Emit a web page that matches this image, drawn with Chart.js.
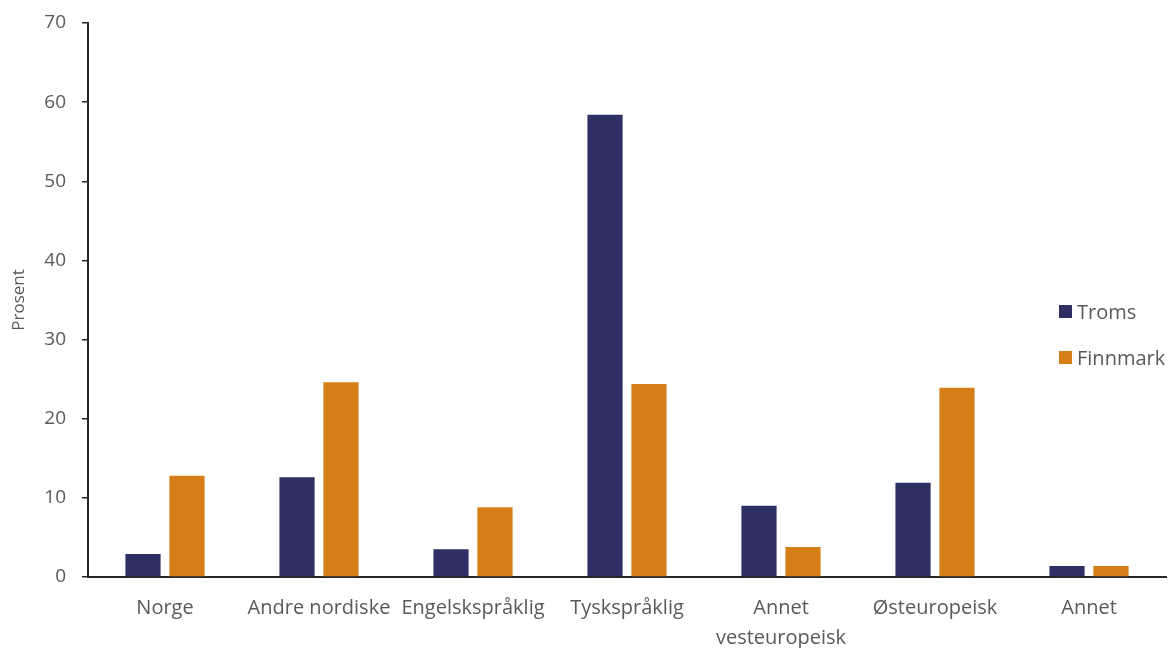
<!DOCTYPE html>
<html>
<head>
<meta charset="utf-8">
<script src="https://cdn.jsdelivr.net/npm/chart.js@4"></script>
<style>
    html, body { margin: 0; padding: 0; background: #fff; }
    #wrap { position: relative; width: 1173px; height: 648px; }
</style>
</head>
<body>
<div id="wrap"><canvas id="chart" width="1173" height="648"></canvas></div>
<script>
/* ---- DATA ---- */
const categories = ['Norge', 'Andre nordiske', 'Engelskspråklig', 'Tyskspråklig',
    ['Annet', 'vesteuropeisk'], 'Østeuropeisk', 'Annet'];
const troms     = [2.9, 12.6, 3.5, 58.4, 9.0, 11.9, 1.4];
const finnmark  = [12.8, 24.6, 8.8, 24.4, 3.8, 23.9, 1.4];
const yTicks    = [0, 10, 20, 30, 40, 50, 60, 70];

const TEXT = '#595959';
const AXIS = '#262626';
const FONT = "'Open Sans', sans-serif";

/* ---- LEGEND (drawn inside the plot, like the original) ---- */
const insideLegend = {
    id: 'insideLegend',
    afterDraw(chart) {
        const ctx = chart.ctx;
        ctx.save();
        ctx.font = '20px ' + FONT;
        ctx.textBaseline = 'middle';
        chart.data.datasets.forEach((ds, i) => {
            const y = 312 + i * 46;
            ctx.fillStyle = ds.backgroundColor;
            ctx.fillRect(1059, y - 7, 13, 13);
            ctx.fillStyle = TEXT;
            ctx.fillText(ds.label, 1077, y + 1);
        });
        ctx.restore();
    }
};

new Chart(document.getElementById('chart'), {
    type: 'bar',
    data: {
        labels: categories,
        datasets: [
            { label: 'Troms', data: troms, backgroundColor: '#2E3063' },
            { label: 'Finnmark', data: finnmark, backgroundColor: '#D67F18' }
        ]
    },
    options: {
        responsive: false,
        animation: false,
        layout: { padding: { top: 23, right: 7, left: 0, bottom: 0 } },
        datasets: { bar: { categoryPercentage: 0.571, barPercentage: 0.8 } },
        plugins: {
            legend: { display: false },
            tooltip: { enabled: false }
        },
        scales: {
            x: {
                grid: { display: false },
                border: { display: true, color: AXIS, width: 2 },
                ticks: {
                    color: TEXT,
                    font: { family: FONT, size: 20, lineHeight: 1.5 },
                    padding: 8,
                    maxRotation: 0,
                    autoSkip: false
                },
                afterFit: s => { s.height = 71; }
            },
            y: {
                min: 0,
                max: 70,
                afterBuildTicks: s => { s.ticks = yTicks.map(v => ({ value: v })); },
                grid: {
                    display: true,
                    drawOnChartArea: false,
                    drawTicks: true,
                    tickLength: 6,
                    color: AXIS,
                    lineWidth: 1.5
                },
                border: { display: true, color: AXIS, width: 2 },
                ticks: {
                    color: TEXT,
                    font: { family: FONT, size: 19 },
                    padding: 16
                },
                title: {
                    display: true,
                    text: 'Prosent',
                    color: TEXT,
                    font: { family: FONT, size: 17 },
                    padding: { top: 9, bottom: 0 }
                },
                afterFit: s => {
                    s.width = 88;
                    s.paddingTop = 0;
                    s.paddingBottom = 0;
                }
            }
        }
    },
    plugins: [insideLegend]
});
</script>
</body>
</html>
